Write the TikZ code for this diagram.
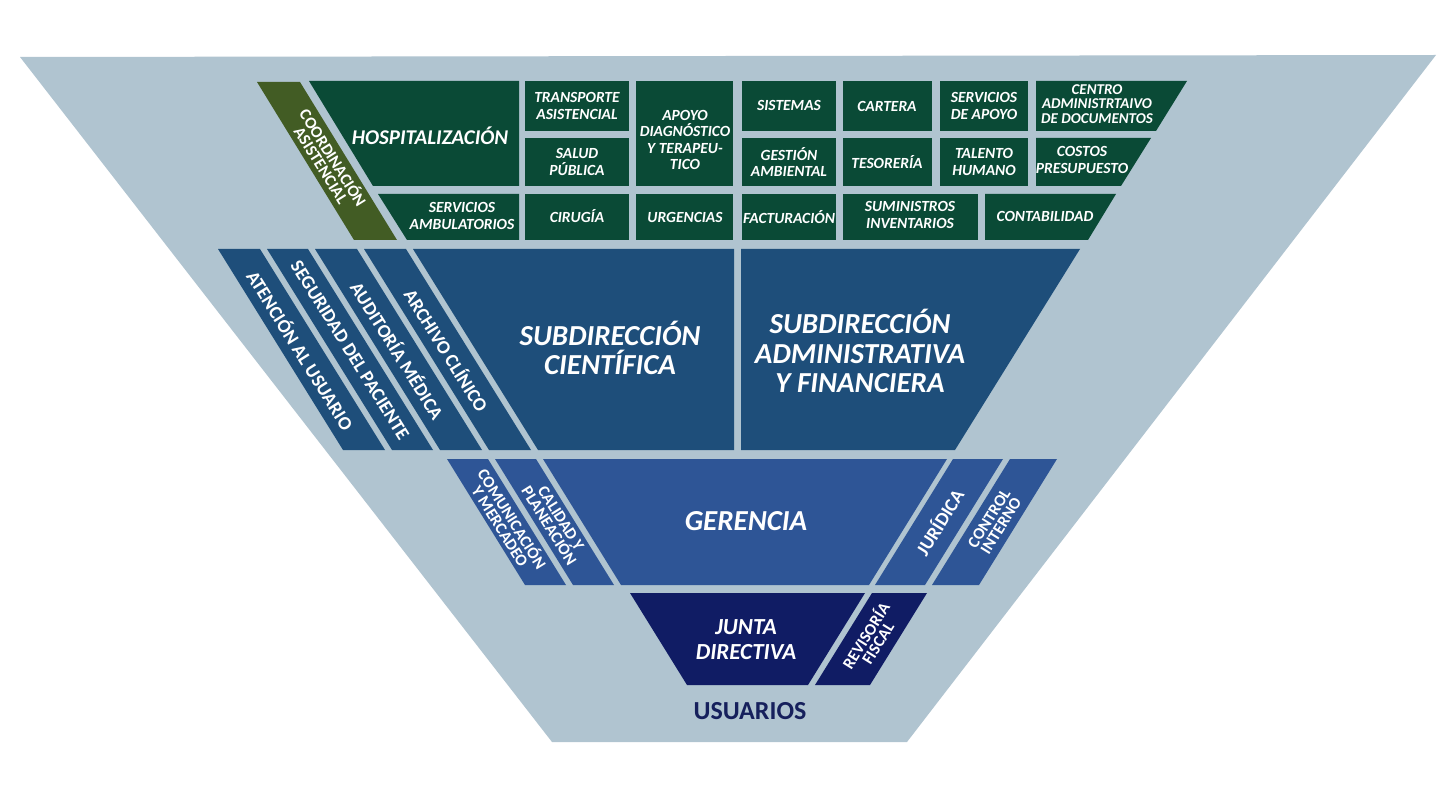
\documentclass[tikz,border=0pt]{standalone}
\usepackage{fontspec}
\setmainfont{Carlito}
\usetikzlibrary{positioning}
\definecolor{fondo}{RGB}{176,196,208}
\definecolor{verdeosc}{RGB}{10,74,54}
\definecolor{oliva}{RGB}{66,92,36}
\definecolor{azulsub}{RGB}{30,78,122}
\definecolor{azulger}{RGB}{46,85,150}
\definecolor{azuljun}{RGB}{16,28,100}
\definecolor{azulusu}{RGB}{22,32,92}

\begin{document}
\begin{tikzpicture}[x=1pt,y=-1pt,
		lblS/.style={text=white,align=center,inner sep=0pt,font=\fontsize{15.5}{16.5}\selectfont\bfseries\itshape},
		lblM/.style={text=white,align=center,inner sep=0pt,font=\fontsize{21}{25}\selectfont\bfseries\itshape},
		lblL/.style={text=white,align=center,inner sep=0pt,font=\fontsize{29}{29.5}\selectfont\bfseries\itshape},
		tira/.style={text=white,align=center,inner sep=0pt,font=\fontsize{19}{19}\selectfont\bfseries},
		tiraS/.style={text=white,align=center,inner sep=0pt,font=\fontsize{16.5}{14}\selectfont\bfseries}]
	% fondo y trapecio
	\fill[white] (0,0) rectangle (1456,794);
	\fill[fondo] (20,57) -- (1436,55) -- (907,742) -- (552,742) -- cycle;

	% nivel verde
	\fill[oliva] (257,82) -- (300,82) -- (397,240) -- (354,240) -- cycle;
	\fill[verdeosc] (309,81) -- (519,81) -- (519,186) -- (373,186) -- cycle;
	\fill[verdeosc] (378,194) -- (519,194) -- (519,240) -- (407,240) -- cycle;
	\fill[verdeosc] (525,81) rectangle (629,131);
	\fill[verdeosc] (525,138) rectangle (629,186);
	\fill[verdeosc] (525,194) rectangle (629,240);
	\fill[verdeosc] (636,81) rectangle (733,186);
	\fill[verdeosc] (636,194) rectangle (733,240);
	\fill[verdeosc] (742,81) rectangle (836,131);
	\fill[verdeosc] (742,138) rectangle (836,186);
	\fill[verdeosc] (742,194) rectangle (836,240);
	\fill[verdeosc] (843,81) rectangle (932,131);
	\fill[verdeosc] (843,138) rectangle (932,186);
	\fill[verdeosc] (843,194) rectangle (978,240);
	\fill[verdeosc] (940,81) rectangle (1028,131);
	\fill[verdeosc] (940,138) rectangle (1028,186);
	\fill[verdeosc] (1036,81) -- (1187,81) -- (1156,131) -- (1036,131) -- cycle;
	\fill[verdeosc] (1036,138) -- (1151,138) -- (1121,186) -- (1036,186) -- cycle;
	\fill[verdeosc] (985,194) -- (1116,194) -- (1088,240) -- (985,240) -- cycle;

	\node[tiraS,rotate=-58] (coord) at (328,161) {COORDINACIÓN\\ASISTENCIAL};
	\node[lblM] (hosp) at (430,136) {HOSPITALIZACIÓN};
	\node[lblS] (ambu) at (462,216) {SERVICIOS\\AMBULATORIOS};
	\node[lblS] (trans) at (577,106) {TRANSPORTE\\ASISTENCIAL};
	\node[lblS] (salud) at (577,162) {SALUD\\PÚBLICA};
	\node[lblS] (ciru) at (577,216) {CIRUGÍA};
	\node[lblS] (apoyo) at (685,140) {APOYO\\DIAGNÓSTICO\\Y TERAPEU-\\TICO};
	\node[lblS] (urge) at (685,217) {URGENCIAS};
	\node[lblS] (siste) at (789,105) {SISTEMAS};
	\node[lblS] (gesti) at (789,162) {GESTIÓN\\AMBIENTAL};
	\node[lblS] (factu) at (789,217) {FACTURACIÓN};
	\node[lblS] (carte) at (887,106) {CARTERA};
	\node[lblS] (tesor) at (887,162) {TESORERÍA};
	\node[lblS] (sumin) at (910,215) {SUMINISTROS\\INVENTARIOS};
	\node[lblS] (servap) at (984,106) {SERVICIOS\\DE APOYO};
	\node[lblS] (talen) at (984,162) {TALENTO\\HUMANO};
	\node[lblS,font=\fontsize{15}{14.5}\selectfont\bfseries\itshape] (centro) at (1097,104) {CENTRO\\ADMINISTRTAIVO\\DE DOCUMENTOS};
	\node[lblS] (costo) at (1082,160) {COSTOS\\PRESUPUESTO};
	\node[lblS] (conta) at (1045,216) {CONTABILIDAD};

	% nivel subdirecciones
	\fill[azulsub] (218,249) -- (260,249) -- (385,450) -- (343,450) -- cycle;
	\fill[azulsub] (267,249) -- (308,249) -- (433,450) -- (392,450) -- cycle;
	\fill[azulsub] (315,249) -- (357,249) -- (482,450) -- (440,450) -- cycle;
	\fill[azulsub] (364,249) -- (406,249) -- (531,450) -- (489,450) -- cycle;
	\fill[azulsub] (413,249) -- (734,249) -- (734,450) -- (538,450) -- cycle;
	\fill[azulsub] (741,249) -- (1080,249) -- (955,450) -- (741,450) -- cycle;

	\node[tira,rotate=-58] (atenc) at (301,350) {ATENCIÓN AL USUARIO};
	\node[tira,rotate=-58] (segur) at (350,350) {SEGURIDAD DEL PACIENTE};
	\node[tira,rotate=-58] (audit) at (398,350) {AUDITORÍA MÉDICA};
	\node[tira,rotate=-58] (archi) at (447,350) {ARCHIVO CLÍNICO};
	\node[lblL] (subcie) at (610,348) {SUBDIRECCIÓN\\CIENTÍFICA};
	\node[lblL] (subadm) at (860,351) {SUBDIRECCIÓN\\ADMINISTRATIVA\\Y FINANCIERA};

	% nivel gerencia
	\fill[azulger] (447,459) -- (488,459) -- (566,585) -- (525,585) -- cycle;
	\fill[azulger] (495,459) -- (536,459) -- (614,585) -- (573,585) -- cycle;
	\fill[azulger] (543,459) -- (947,459) -- (869,585) -- (621,585) -- cycle;
	\fill[azulger] (953,459) -- (1003,459) -- (925,585) -- (875,585) -- cycle;
	\fill[azulger] (1010,459) -- (1057,459) -- (979,585) -- (932,585) -- cycle;

	\node[tiraS,rotate=-58] (comun) at (507,522) {COMUNICACIÓN\\Y MERCADEO};
	\node[tiraS,rotate=-58] (calid) at (555,522) {CALIDAD Y\\PLANEACIÓN};
	\node[lblL] (geren) at (746,521) {GERENCIA};
	\node[tira,rotate=58] (jurid) at (939,522) {JURÍDICA};
	\node[tiraS,rotate=58] (contr) at (995,522) {CONTROL\\INTERNO};

	% nivel junta
	\fill[azuljun] (630,593) -- (865,593) -- (808,685) -- (687,685) -- cycle;
	\fill[azuljun] (872,593) -- (927,593) -- (870,685) -- (815,685) -- cycle;

	\node[lblM,font=\fontsize{23}{25}\selectfont\bfseries\itshape] (junta) at (746,640) {JUNTA\\DIRECTIVA};
	\node[tiraS,rotate=58] (revis) at (871,639) {REVISORÍA\\FISCAL};
	\node[text=azulusu,inner sep=0pt,font=\fontsize{26}{26}\selectfont\bfseries] (usuar) at (750,711) {USUARIOS};
\end{tikzpicture}
\end{document}
